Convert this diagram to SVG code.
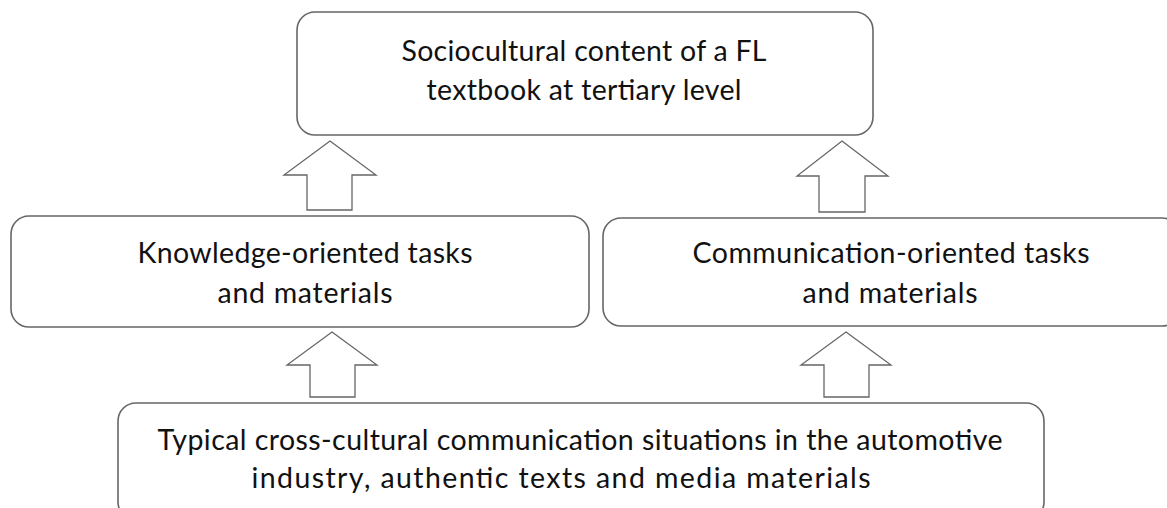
<svg xmlns="http://www.w3.org/2000/svg" width="1167" height="508" viewBox="0 0 1167 508">
<style>
.box{fill:#fff;stroke:#666;stroke-width:1.6}
.arr{fill:#fff;stroke:#666;stroke-width:1.3;stroke-linejoin:miter}
.t{font-family:Lato,"Liberation Sans",sans-serif;font-size:28.5px;fill:#111;text-anchor:middle}
</style>
<rect width="1167" height="508" fill="#fff"/>
<g id="connectors">
<path class="arr" d="M330,141 L376,175 L352,175 L352,210 L307,210 L307,175 L284,175 Z"/>
<path class="arr" d="M842,141 L888,176 L865,176 L865,212 L819,212 L819,176 L797,176 Z"/>
<path class="arr" d="M332,332 L377,365 L355,365 L355,397 L310,397 L310,365 L287,365 Z"/>
<path class="arr" d="M846,332 L891,365 L869,365 L869,397 L824,397 L824,365 L801,365 Z"/>
</g>
<g id="node-top">
<rect class="box" x="297" y="12" width="576" height="123" rx="18"/>
<text class="t" x="584" y="61" textLength="365">Sociocultural content of a FL</text>
<text class="t" x="584" y="100" textLength="315">textbook at tertiary level</text>
</g>
<g id="node-knowledge">
<rect class="box" x="11" y="216" width="578" height="111" rx="18"/>
<text class="t" x="305" y="263" textLength="335">Knowledge-oriented tasks</text>
<text class="t" x="305" y="303" textLength="175">and materials</text>
</g>
<g id="node-communication">
<rect class="box" x="603" y="218" width="577" height="108" rx="18"/>
<text class="t" x="891" y="263" textLength="397">Communication-oriented tasks</text>
<text class="t" x="890" y="303" textLength="175">and materials</text>
</g>
<g id="node-situations">
<rect class="box" x="118" y="403" width="926" height="117" rx="18"/>
<text class="t" x="580" y="450" textLength="845">Typical cross-cultural communication situations in the automotive</text>
<text class="t" x="561" y="488" textLength="619">industry, authentic texts and media materials</text>
</g>
</svg>
